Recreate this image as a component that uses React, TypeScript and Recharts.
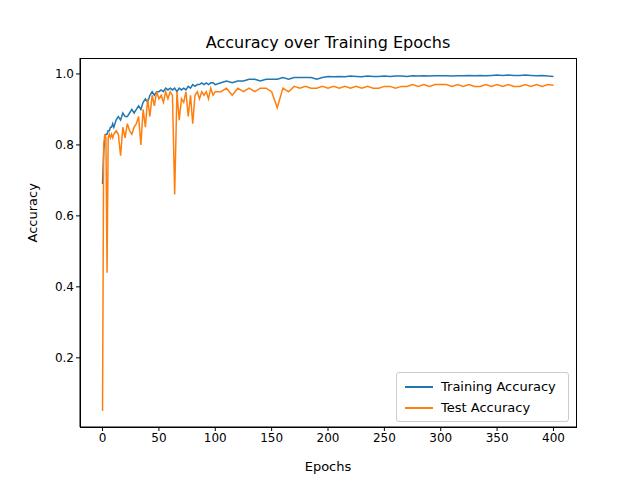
import { LineChart, Line, XAxis, YAxis } from "recharts";

const epochs = [
  0, 1, 2, 3, 4, 5, 6, 7, 8, 9, 10,
  12, 14, 16, 18, 20, 22, 24, 26, 28, 30,
  32, 34, 36, 38, 40, 42, 44, 46, 48, 50,
  52, 54, 56, 58, 60, 62, 64, 66, 68, 70,
  72, 74, 76, 78, 80, 82, 84, 86, 88, 90,
  92, 94, 96, 98, 100,
  105, 110, 115, 120, 125, 130, 135, 140, 145, 150,
  155, 160, 165, 170, 175, 180, 185, 190, 195, 200,
  205, 210, 215, 220, 225, 230, 235, 240, 245, 250,
  255, 260, 265, 270, 275, 280, 285, 290, 295, 300,
  305, 310, 315, 320, 325, 330, 335, 340, 345, 350,
  355, 360, 365, 370, 375, 380, 385, 390, 395, 400,
];

const trainAcc = [
  0.69, 0.78, 0.82, 0.83, 0.83, 0.84, 0.84, 0.85, 0.85, 0.86, 0.85,
  0.87, 0.88, 0.87, 0.89, 0.88, 0.88, 0.89, 0.9, 0.89, 0.9,
  0.91, 0.9, 0.92, 0.93, 0.92, 0.94, 0.95, 0.94, 0.95, 0.95,
  0.955, 0.95, 0.96, 0.955, 0.96, 0.955, 0.96, 0.95, 0.96, 0.955,
  0.96, 0.955, 0.965, 0.96, 0.97, 0.965, 0.97, 0.97, 0.975, 0.97,
  0.975, 0.97, 0.975, 0.975, 0.97,
  0.975, 0.98, 0.975, 0.98, 0.98, 0.985, 0.985, 0.98, 0.985, 0.985,
  0.985, 0.99, 0.985, 0.99, 0.99, 0.99, 0.99, 0.985, 0.99, 0.993,
  0.992, 0.993, 0.992, 0.994, 0.993, 0.992, 0.994, 0.993, 0.993, 0.994,
  0.993, 0.994, 0.994, 0.993, 0.995, 0.994, 0.995, 0.994, 0.995, 0.995,
  0.995, 0.994, 0.995, 0.995, 0.996, 0.995, 0.996, 0.995, 0.996, 0.997,
  0.996, 0.997, 0.996, 0.996, 0.997, 0.996, 0.995, 0.996, 0.994, 0.993,
];

const testAcc = [
  0.05, 0.8, 0.83, 0.82, 0.44, 0.82, 0.83, 0.82, 0.83, 0.82, 0.83,
  0.84, 0.83, 0.77, 0.85, 0.82, 0.86, 0.84, 0.83, 0.85, 0.86,
  0.88, 0.8, 0.9, 0.85, 0.93, 0.88, 0.94, 0.91, 0.95, 0.93,
  0.94, 0.92, 0.95, 0.93, 0.95, 0.94, 0.66, 0.95, 0.87, 0.93,
  0.92, 0.95, 0.88, 0.94, 0.86, 0.94, 0.95, 0.93, 0.95, 0.94,
  0.95, 0.93, 0.96, 0.94, 0.95,
  0.95, 0.96, 0.94, 0.96, 0.95, 0.96, 0.95, 0.96, 0.96, 0.95,
  0.905, 0.96, 0.95, 0.965, 0.96, 0.965, 0.96, 0.96, 0.965, 0.96,
  0.965, 0.96, 0.965, 0.96, 0.965, 0.96, 0.965, 0.96, 0.96, 0.965,
  0.965, 0.96, 0.965, 0.965, 0.97, 0.965, 0.97, 0.965, 0.97, 0.97,
  0.97, 0.965, 0.97, 0.965, 0.97, 0.965, 0.965, 0.97, 0.965, 0.97,
  0.965, 0.97, 0.965, 0.965, 0.97, 0.965, 0.97, 0.965, 0.97, 0.968,
];

const xTicks = [0, 50, 100, 150, 200, 250, 300, 350, 400];
const yTicks = [0.2, 0.4, 0.6, 0.8, 1.0];

const data = epochs.map((e, i) => ({ epoch: e, train: trainAcc[i], test: testAcc[i] }));

const font = "DejaVu Sans, sans-serif";

const legendItems = [
  { label: "Training Accuracy", color: "#1f77b4" },
  { label: "Test Accuracy", color: "#ff7f0e" },
];

export default function App() {
  return (
    <div style={{ position: "absolute", left: 0, top: 0, width: 640, height: 480, background: "white", fontFamily: font }}>
      <div style={{ position: "absolute", top: 33, left: 80, width: 496, textAlign: "center", fontSize: 16, color: "#000" }}>
        Accuracy over Training Epochs
      </div>
      <LineChart width={640} height={480} data={data} margin={{ top: 58, right: 64, bottom: 23, left: 30 }}>
        <XAxis
          dataKey="epoch"
          type="number"
          domain={[-20, 420]}
          ticks={xTicks}
          stroke="#000"
          tick={{ fill: "#000", fontSize: 12 }}
          height={30}
          tickSize={4}
          label={{ value: "Epochs", position: "insideBottom", offset: -14, fill: "#000", fontSize: 13 }}
        />
        <YAxis
          type="number"
          domain={[0.005, 1.045]}
          ticks={yTicks}
          tickFormatter={(v: number) => v.toFixed(1)}
          stroke="#000"
          tick={{ fill: "#000", fontSize: 12 }}
          width={50}
          tickSize={4}
          label={{ value: "Accuracy", angle: -90, position: "insideLeft", offset: 2, fill: "#000", fontSize: 13 }}
        />
        <Line dataKey="train" stroke="#1f77b4" strokeWidth={1.5} dot={false} isAnimationActive={false} />
        <Line dataKey="test" stroke="#ff7f0e" strokeWidth={1.5} dot={false} isAnimationActive={false} />
      </LineChart>
      {/* frame around the plot area */}
      <div style={{ position: "absolute", left: 80, top: 58, width: 495, height: 368, border: "1px solid #000", pointerEvents: "none" }} />
      <div style={{ position: "absolute", left: 396, top: 372, width: 155, background: "white", border: "1px solid #ccc", borderRadius: 3, padding: "3px 8px", fontSize: 13 }}>
        {legendItems.map((it) => (
          <div key={it.label} style={{ display: "flex", alignItems: "center", height: 21 }}>
            <span style={{ width: 28, height: 2, background: it.color, marginRight: 8 }} />
            {it.label}
          </div>
        ))}
      </div>
    </div>
  );
}
